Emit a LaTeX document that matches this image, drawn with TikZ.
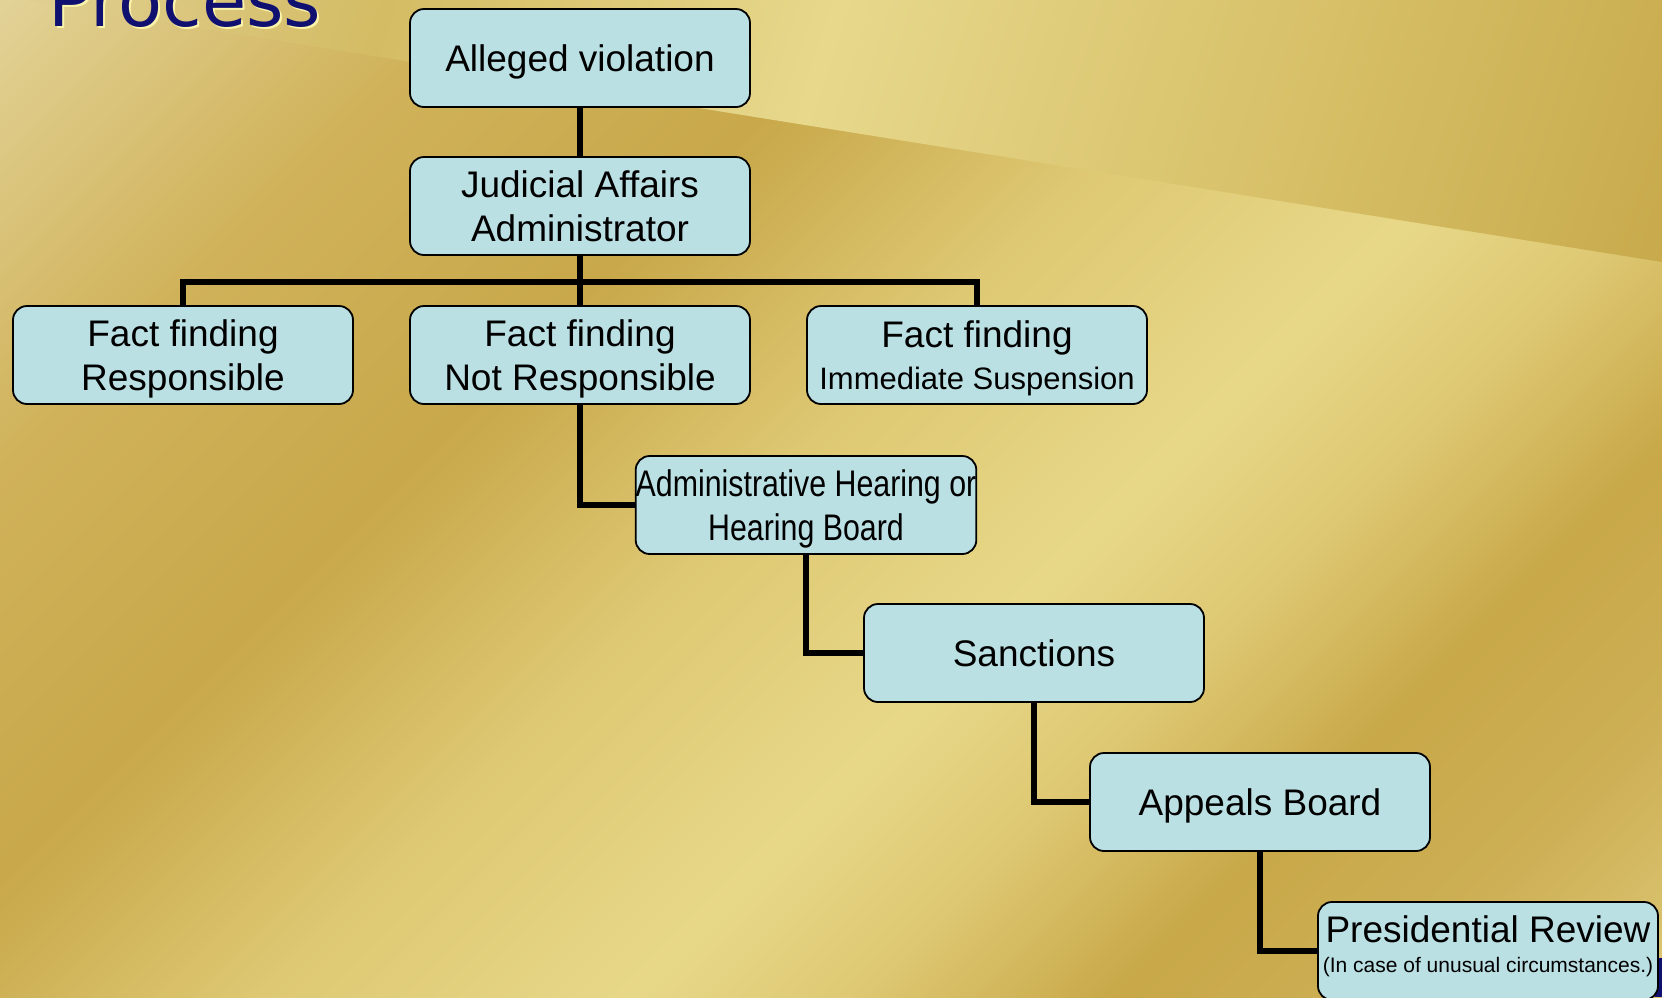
\documentclass[tikz,border=0pt]{standalone}
\usepackage{fontspec}
\usepackage{graphicx}
\setmainfont{Liberation Sans}
\newfontfamily\titlefont{DejaVu Sans}
\newfontfamily\narrowfont[FakeStretch=0.82]{Liberation Sans}
\definecolor{boxfill}{RGB}{187,224,228}
\definecolor{navytitle}{RGB}{16,16,112}
\definecolor{shadowyel}{RGB}{250,244,170}
\definecolor{gA}{RGB}{228,214,160}
\definecolor{gB}{RGB}{226,210,150}
\definecolor{gC}{RGB}{208,178,90}
\definecolor{gD}{RGB}{200,168,74}
\definecolor{gE}{RGB}{222,200,115}
\definecolor{gF}{RGB}{231,216,136}
\definecolor{gG}{RGB}{222,200,115}
\definecolor{gH}{RGB}{200,168,72}
\definecolor{gI}{RGB}{205,175,85}
\definecolor{gJ}{RGB}{222,200,118}
\definecolor{uA}{RGB}{224,207,145}
\definecolor{uB}{RGB}{212,188,100}
\definecolor{uC}{RGB}{231,216,140}
\definecolor{uD}{RGB}{215,192,104}
\definecolor{uE}{RGB}{200,170,76}
\pgfdeclarehorizontalshading{goldbg}{100bp}{color(0bp)=(gA); color(14.6bp)=(gB); color(27bp)=(gC); color(38bp)=(gD); color(48bp)=(gE); color(58bp)=(gF); color(64bp)=(gG); color(71bp)=(gH); color(78bp)=(gI); color(86bp)=(gJ); color(100bp)=(gJ)}
\pgfdeclarehorizontalshading{goldup}{100bp}{color(0bp)=(uA); color(18.6bp)=(uA); color(32bp)=(uB); color(48.4bp)=(uC); color(66.3bp)=(uD); color(81.4bp)=(uE); color(100bp)=(uE)}
\pgfdeclarelayer{back}
\pgfdeclarelayer{links}
\pgfsetlayers{back,links,main}
\begin{document}
\begin{tikzpicture}[x=1pt,y=-1pt,
  box/.style={draw=black, line width=1.8pt, fill=boxfill, rounded corners=14pt,
    minimum width=340pt, minimum height=98pt, inner sep=0pt, align=center,
    text depth=0pt, font=\fontsize{37}{44}\selectfont},
  conn/.style={line width=5.5pt, draw=black}]
\useasboundingbox (0,0) rectangle (1662,997);
\begin{pgfonlayer}{back}
\clip (0,0) rectangle (1662,997);
\shade[shading=goldbg, shading angle=-45] (0,0) rectangle (1662,997);
\shade[shading=goldup, shading angle=-17.6] (23,0) -- (1662,0) -- (1662,262) -- cycle;
\fill[navytitle] (1655,958) rectangle (1662,997);
\node[anchor=base west, text=shadowyel, inner sep=0pt] (titleshadow) at (50,28) {\titlefont\fontsize{72}{80}\selectfont Process};
\node[anchor=base west, text=navytitle, inner sep=0pt] (title) at (48,26) {\titlefont\fontsize{72}{80}\selectfont Process};
\end{pgfonlayer}

\node[box] (alleged) at (580,58) {Alleged violation};
\node[box] (judicial) at (580,206) {Judicial Affairs\\Administrator};
\node[box] (resp) at (183,355) {Fact finding\\Responsible};
\node[box] (notresp) at (580,355) {Fact finding\\Not Responsible};
\node[box, text depth=-4pt] (susp) at (977,355) {Fact finding\\[-2pt]{\fontsize{31}{37}\selectfont Immediate Suspension}};
\node[box, font=\narrowfont\fontsize{37}{44}\selectfont] (admin) at (806,505) {Administrative Hearing or\\Hearing Board};
\node[box] (sanctions) at (1034,653) {Sanctions};
\node[box] (appeals) at (1260,802) {Appeals Board};
\node[box, text depth=14pt] (pres) at (1488,951) {Presidential Review\\[-14pt]{\fontsize{21}{25}\selectfont (In case of unusual circumstances.)}};

\coordinate (bus) at (580,282);
\begin{pgfonlayer}{links}
\draw[conn] (alleged.south) -- (judicial.north);
\draw[conn] (judicial.south) -- (notresp.north);
\draw[conn] (resp.north) -- (resp.north |- bus) -- (susp.north |- bus) -- (susp.north);
\draw[conn] (notresp.south) |- (admin.west);
\draw[conn] (admin.south) |- (sanctions.west);
\draw[conn] (sanctions.south) |- (appeals.west);
\draw[conn] (appeals.south) |- (pres.west);
\end{pgfonlayer}
\end{tikzpicture}
\end{document}
